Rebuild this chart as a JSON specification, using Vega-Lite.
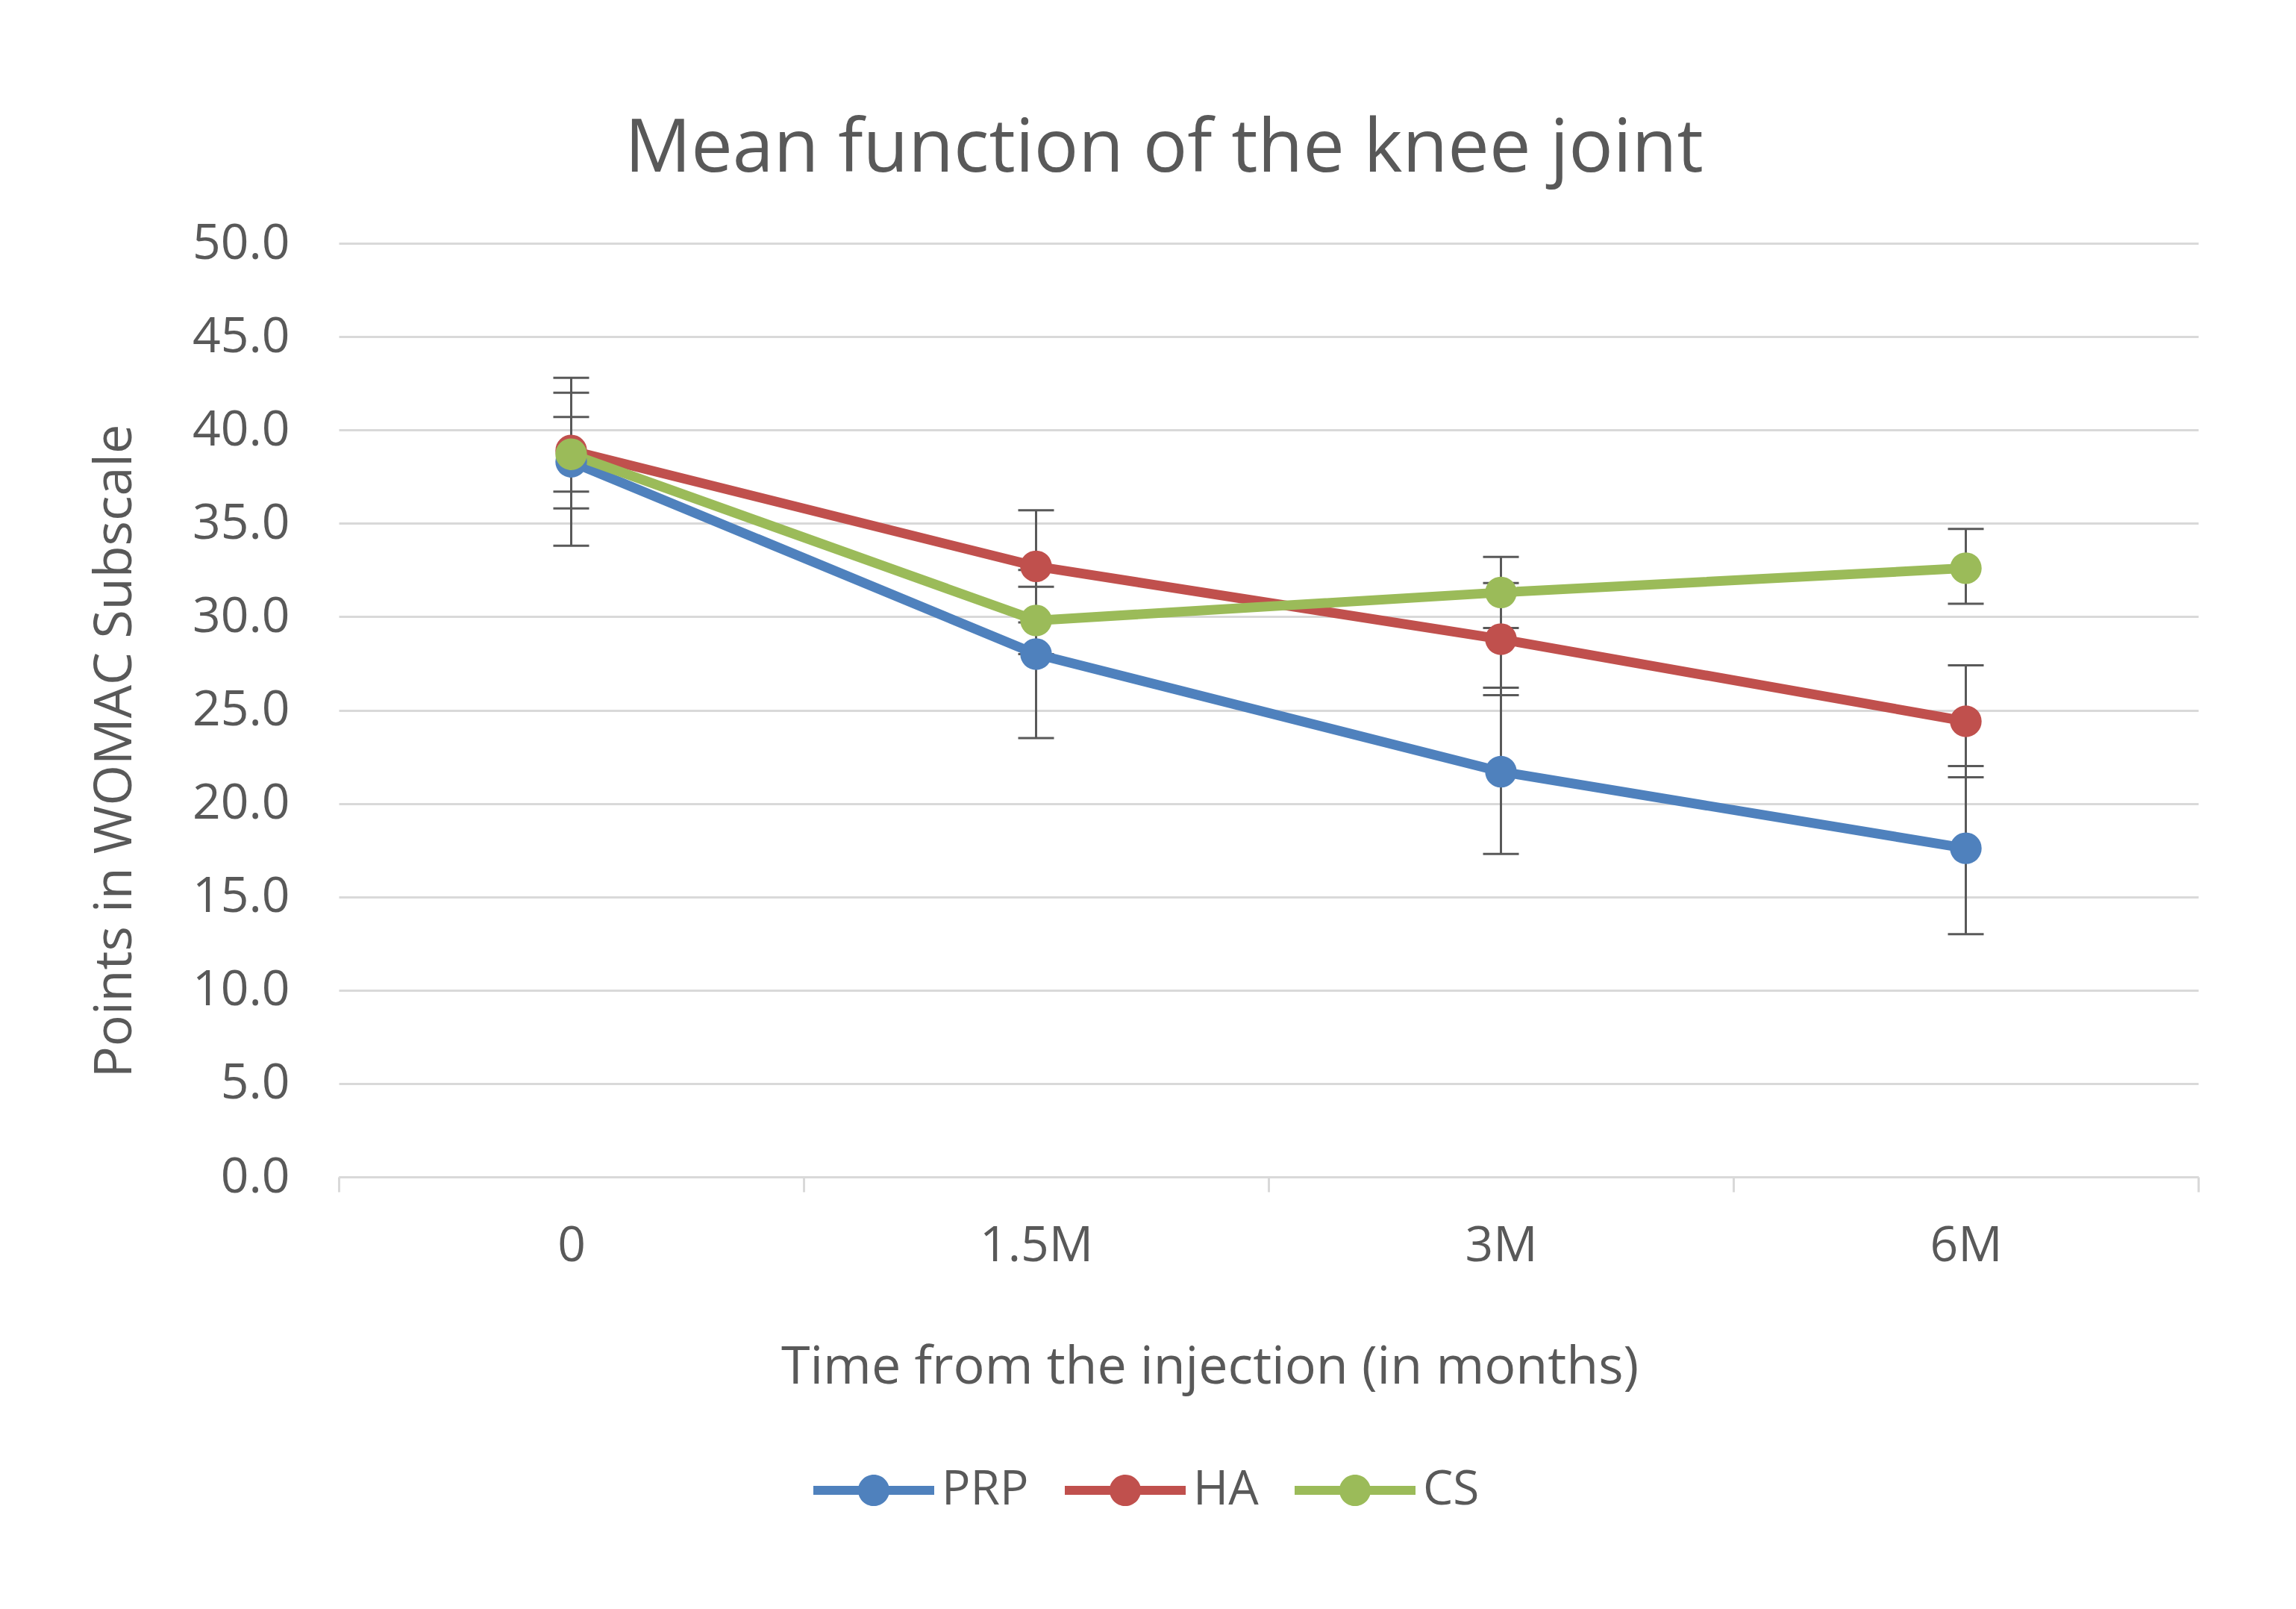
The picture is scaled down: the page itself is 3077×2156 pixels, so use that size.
{
  "$schema": "https://vega.github.io/schema/vega-lite/v6.json",
  "width": 2492,
  "height": 1251,
  "autosize": {"type": "none"},
  "padding": {"left": 454, "top": 326, "right": 131, "bottom": 579},
  "background": "white",
  "title": {
    "text": "Mean function of the knee joint",
    "font": "Open Sans",
    "fontSize": 99,
    "fontWeight": "normal",
    "color": "#595959",
    "anchor": "middle",
    "dx": -140,
    "offset": 42
  },
  "data": {
    "values": [
      {"time": "0", "group": "PRP", "mean": 38.3, "lo": 33.8, "hi": 42.8},
      {"time": "1.5M", "group": "PRP", "mean": 28.0, "lo": 23.5, "hi": 32.5},
      {"time": "3M", "group": "PRP", "mean": 21.7, "lo": 17.3, "hi": 26.2},
      {"time": "6M", "group": "PRP", "mean": 17.6, "lo": 13.0, "hi": 22.0},
      {"time": "0", "group": "HA", "mean": 38.9, "lo": 35.8, "hi": 42.0},
      {"time": "1.5M", "group": "HA", "mean": 32.7, "lo": 29.7, "hi": 35.7},
      {"time": "3M", "group": "HA", "mean": 28.8, "lo": 25.8, "hi": 31.8},
      {"time": "6M", "group": "HA", "mean": 24.4, "lo": 21.4, "hi": 27.4},
      {"time": "0", "group": "CS", "mean": 38.7, "lo": 36.7, "hi": 40.7},
      {"time": "1.5M", "group": "CS", "mean": 29.8, "lo": 28.0, "hi": 31.6},
      {"time": "3M", "group": "CS", "mean": 31.3, "lo": 29.4, "hi": 33.2},
      {"time": "6M", "group": "CS", "mean": 32.6, "lo": 30.7, "hi": 34.7}
    ]
  },
  "encoding": {
    "x": {
      "field": "time",
      "type": "ordinal",
      "sort": ["0", "1.5M", "3M", "6M"],
      "bandPosition": 0.5,
      "scale": {"type": "band", "paddingInner": 0, "paddingOuter": 0},
      "axis": {
        "title": "Time from the injection (in months)",
        "titleFont": "Open Sans",
        "titleFontSize": 70,
        "titleFontWeight": "normal",
        "titleColor": "#595959",
        "titleBaseline": "middle",
        "titleX": 1167,
        "titleY": 255,
        "labelFont": "Open Sans",
        "labelFontSize": 66,
        "labelColor": "#595959",
        "labelAngle": 0,
        "labelPadding": 40,
        "tickBand": "extent",
        "ticks": true,
        "tickSize": 20,
        "tickWidth": 3,
        "tickColor": "#d9d9d9",
        "domainColor": "#d9d9d9",
        "domainWidth": 3,
        "grid": false
      }
    }
  },
  "layer": [
    {
      "mark": {"type": "rule", "color": "#595959", "strokeWidth": 3},
      "encoding": {
        "y": {"field": "lo", "type": "quantitative"},
        "y2": {"field": "hi"}
      }
    },
    {
      "mark": {"type": "tick", "color": "#595959", "thickness": 3, "size": 48, "orient": "horizontal", "opacity": 1},
      "encoding": {"y": {"field": "lo", "type": "quantitative"}}
    },
    {
      "mark": {"type": "tick", "color": "#595959", "thickness": 3, "size": 48, "orient": "horizontal", "opacity": 1},
      "encoding": {"y": {"field": "hi", "type": "quantitative"}}
    },
    {
      "mark": {"type": "line", "strokeWidth": 13, "strokeCap": "round", "strokeJoin": "round"},
      "encoding": {
        "y": {"field": "mean", "type": "quantitative"},
        "color": {"field": "group", "type": "nominal",
          "scale": {"domain": ["PRP", "HA", "CS"], "range": ["#4F81BD", "#C0504D", "#9BBB59"]}}
      }
    },
    {
      "mark": {"type": "point", "shape": "circle", "filled": true, "opacity": 1, "size": 1800},
      "encoding": {
        "y": {
          "field": "mean",
          "type": "quantitative",
          "scale": {"domain": [0, 50], "nice": false},
          "axis": {
            "title": "Points in WOMAC Subscale",
            "titleFont": "Open Sans",
            "titleFontSize": 70,
            "titleFontWeight": "normal",
            "titleColor": "#595959",
            "titleBaseline": "middle",
            "titleAngle": 270,
            "titleX": -300,
            "titleY": 680,
            "values": [0, 5, 10, 15, 20, 25, 30, 35, 40, 45, 50],
            "format": ".1f",
            "labelFont": "Open Sans",
            "labelFontSize": 66,
            "labelColor": "#595959",
            "labelPadding": 66,
            "ticks": false,
            "domain": false,
            "grid": true,
            "gridColor": "#d9d9d9",
            "gridWidth": 3
          }
        },
        "color": {
          "field": "group",
          "type": "nominal",
          "scale": {"domain": ["PRP", "HA", "CS"], "range": ["#4F81BD", "#C0504D", "#9BBB59"]},
          "legend": {
            "title": null,
            "orient": "none",
            "direction": "horizontal",
            "legendX": 636,
            "legendY": 1590,
            "symbolType": "M-1,-0.075H1V0.075H-1Z M0,-0.26A0.26,0.26,0,1,1,0,0.26A0.26,0.26,0,1,1,0,-0.26Z",
            "symbolSize": 26244,
            "symbolStrokeWidth": 0,
            "symbolOpacity": 1,
            "labelFont": "Open Sans",
            "labelFontSize": 64,
            "labelColor": "#595959",
            "labelOffset": 10,
            "columnPadding": 48
          }
        }
      }
    }
  ],
  "config": {
    "view": {"stroke": null}
  }
}
